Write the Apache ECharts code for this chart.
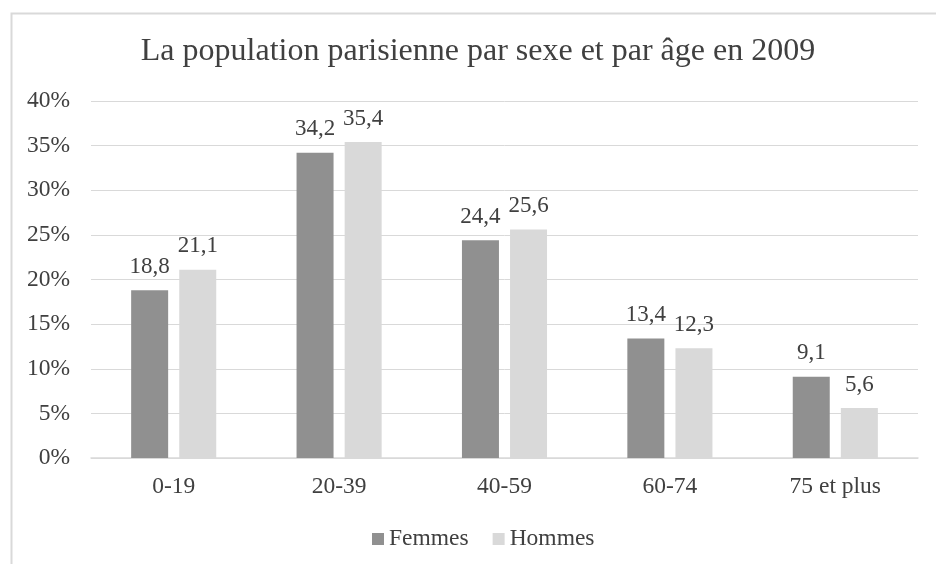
<!DOCTYPE html>
<html>
<head>
<meta charset="utf-8">
<script src="https://cdn.jsdelivr.net/npm/echarts@6/dist/echarts.min.js"></script>
<style>html,body{margin:0;padding:0;background:#fff}#c{width:936px;height:564px}</style>
</head>
<body>
<div id="c"></div>
<script>
const categories = ['0-19', '20-39', '40-59', '60-74', '75 et plus'];
const femmes = [18.8, 34.2, 24.4, 13.4, 9.1];
const hommes = [21.1, 35.4, 25.6, 12.3, 5.6];
const titleText = 'La population parisienne par sexe et par âge en 2009';

const FONT = '"Liberation Serif", "Times New Roman", serif';
const TXT = '#404040';
const FS = 23.5;
const chart = echarts.init(document.getElementById('c'), null, {renderer: 'canvas'});
const fmt = p => String(p.value).replace('.', ',');
chart.setOption({
  animation: false,
  backgroundColor: '#fff',
  graphic: [{
    type: 'rect', left: 9, top: 11, z: -10, silent: true,
    shape: {x: 0, y: 0, width: 1000, height: 1000},
    style: {fill: 'none', stroke: '#d9d9d9', lineWidth: 2}
  }],
  title: {
    text: titleText, left: 473, top: 31, textAlign: 'center',
    textStyle: {fontFamily: FONT, fontSize: 32, fontWeight: 'normal', color: TXT}
  },
  legend: {
    data: ['Femmes', 'Hommes'], left: 367, top: 522,
    itemWidth: 12, itemHeight: 12, itemGap: 24, icon: 'rect',
    textStyle: {fontFamily: FONT, fontSize: FS, color: TXT}
  },
  grid: {left: 91, right: 18, top: 101, bottom: 106, containLabel: false},
  xAxis: {
    type: 'category', data: categories,
    axisLine: {lineStyle: {color: '#d9d9d9', width: 1.5}},
    axisTick: {show: false},
    axisLabel: {fontFamily: FONT, fontSize: FS, color: TXT, margin: 17}
  },
  yAxis: {
    type: 'value', min: 0, max: 40, interval: 5,
    axisLine: {show: false}, axisTick: {show: false},
    splitLine: {lineStyle: {color: '#d9d9d9', width: 1}},
    axisLabel: {fontFamily: FONT, fontSize: FS, color: TXT, margin: 21, formatter: '{value}%'}
  },
  series: [
    {name: 'Femmes', type: 'bar', data: femmes, barWidth: 37, barGap: '30%',
     itemStyle: {color: '#909090'},
     label: {show: true, position: 'top', distance: 12, formatter: fmt, fontFamily: FONT, fontSize: 23, color: TXT}},
    {name: 'Hommes', type: 'bar', data: hommes, barWidth: 37, barGap: '30%',
     itemStyle: {color: '#d9d9d9'},
     label: {show: true, position: 'top', distance: 12, formatter: fmt, fontFamily: FONT, fontSize: 23, color: TXT}}
  ]
});
</script>
</body>
</html>
